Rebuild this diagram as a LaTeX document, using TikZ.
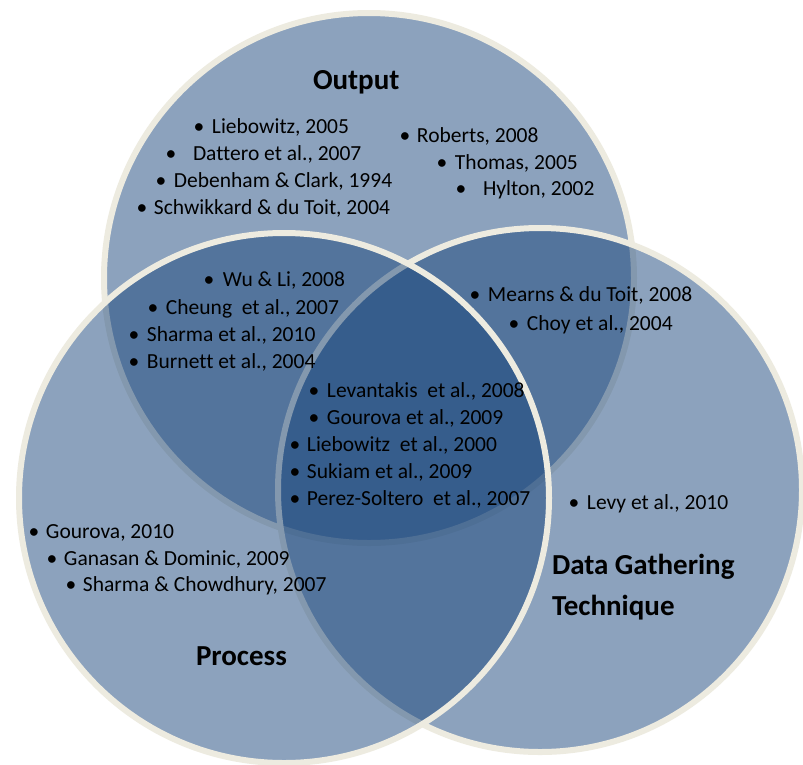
\documentclass[tikz,border=0pt]{standalone}
\usepackage{fontspec}
\setmainfont{Carlito}[Ligatures=NoCommon]
\definecolor{cream}{RGB}{237,235,224}
\definecolor{vennblue}{RGB}{27,71,125}
\newcommand\bul[2]{\makebox[#1pt][l]{\textbullet}#2}
\tikzset{
  venn/.style={fill=vennblue, fill opacity=0.5, draw=cream, draw opacity=1, line width=6pt},
  item/.style={anchor=base west, inner sep=0pt, outer sep=0pt, font=\fontsize{21.5}{25}\selectfont},
  ttl/.style={anchor=base west, inner sep=0pt, outer sep=0pt, font=\fontsize{29}{34}\selectfont\bfseries}
}
\begin{document}
\begin{tikzpicture}[x=1pt,y=-1pt]
\fill[white] (0,0) rectangle (803,764);
\useasboundingbox (0,0) rectangle (803,764);
% circles: Output, Data, Process
\filldraw[venn] (369,278) circle[radius=265pt];
\filldraw[venn] (540,490) circle[radius=262pt];
\filldraw[venn] (284,498) circle[radius=265pt];
% titles
\node[ttl] (tOut) at (313,89) {Output};
\node[ttl] (tProc) at (196,665) {Process};
\node[ttl] (tData1) at (552,574) {Data Gathering};
\node[ttl] (tData2) at (552,615) {Technique};
% Output only
\node[item] (o1) at (193.5,133) {\bul{18.5}{Liebowitz, 2005}};
\node[item] (o2) at (165.5,160) {\bul{27.5}{Dattero et al., 2007}};
\node[item] (o3) at (155.5,187) {\bul{18.5}{Debenham \& Clark, 1994}};
\node[item] (o4) at (136.5,214) {\bul{17.5}{Schwikkard \& du Toit, 2004}};
\node[item] (o5) at (399.5,142) {\bul{17.5}{Roberts, 2008}};
\node[item] (o6) at (436.5,169) {\bul{18.5}{Thomas, 2005}};
\node[item] (o7) at (455.5,195) {\bul{27.5}{Hylton, 2002}};
% Output and Process
\node[item] (op1) at (203.5,286) {\bul{19.5}{Wu \& Li, 2008}};
\node[item] (op2) at (147.5,314) {\bul{18.5}{Cheung\ \ et al., 2007}};
\node[item] (op3) at (128.5,341) {\bul{18.5}{Sharma et al., 2010}};
\node[item] (op4) at (128.5,368) {\bul{18.5}{Burnett et al., 2004}};
% Output and Data
\node[item] (od1) at (469.5,301) {\bul{18.5}{Mearns \& du Toit, 2008}};
\node[item] (od2) at (508.5,330) {\bul{18.5}{Choy et al., 2004}};
% all three
\node[item] (c1) at (308.5,397) {\bul{18.5}{Levantakis\ \ et al., 2008}};
\node[item] (c2) at (308.5,424) {\bul{18.5}{Gourova et al., 2009}};
\node[item] (c3) at (289.5,451) {\bul{17.5}{Liebowitz\ \ et al., 2000}};
\node[item] (c4) at (289.5,478) {\bul{17.5}{Sukiam et al., 2009}};
\node[item] (c5) at (289.5,505) {\bul{17.5}{Perez-Soltero\ \ et al., 2007}};
% Process only
\node[item] (p1) at (28.5,538) {\bul{17.5}{Gourova, 2010}};
\node[item] (p2) at (46.5,565) {\bul{17.5}{Ganasan \& Dominic, 2009}};
\node[item] (p3) at (65.5,591) {\bul{17.5}{Sharma \& Chowdhury, 2007}};
% Data only
\node[item] (d1) at (568.5,509) {\bul{18.5}{Levy et al., 2010}};
\end{tikzpicture}
\end{document}
